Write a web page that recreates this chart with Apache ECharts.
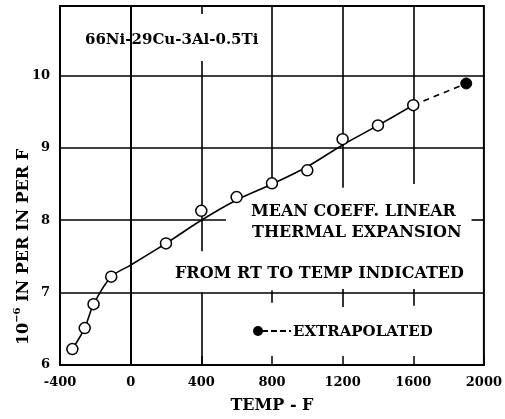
<!DOCTYPE html>
<html><head><meta charset="utf-8">
<script src="https://cdn.jsdelivr.net/npm/echarts@6/dist/echarts.min.js"></script>
<style>html,body{margin:0;padding:0;background:#fff}#c{width:505px;height:419px}</style>
</head><body><div id="c"></div>
<script>
// ---- data ----
const xTicks = [-400, 0, 400, 800, 1200, 1600, 2000];
const yTicks = [6, 7, 8, 9, 10];
const measuredTemp  = [-330, -260, -210, -110, 200, 400, 600, 800, 1000, 1200, 1400, 1600];
const measuredCoeff = [6.22, 6.51, 6.84, 7.22, 7.68, 8.13, 8.32, 8.51, 8.69, 9.12, 9.31, 9.59];
const curveTemp  = [-330, -260, -210, -110, 0, 200, 400, 600, 800, 1000, 1200, 1400, 1600];
const curveCoeff = [6.22, 6.51, 6.84, 7.22, 7.38, 7.68, 8.00, 8.28, 8.50, 8.74, 9.04, 9.31, 9.59];
const extrapTemp  = [1600, 1900];
const extrapCoeff = [9.59, 9.89];
const extrapPointTemp = [1900];
const extrapPointCoeff = [9.89];
const alloyLabel = '66Ni-29Cu-3Al-0.5Ti';
const noteLines = ['MEAN COEFF. LINEAR', 'THERMAL EXPANSION', 'FROM RT TO TEMP INDICATED'];
const legendLabel = 'EXTRAPOLATED';
const xName = 'TEMP - F';

const X_MIN = -400, X_MAX = 2000, Y_MIN = 6, Y_MAX = 10.96;
// grid line segments (value coordinates) as drawn (interrupted) in the original
const gridSegs = [
  [X_MIN, 10, X_MAX, 10], [X_MIN, 9, X_MAX, 9], [X_MIN, 7, X_MAX, 7],
  [X_MIN, 8, 540, 8], [1930, 8, X_MAX, 8],
  [0, Y_MAX, 0, 10.85], [0, 10.2, 0, Y_MIN],
  [400, Y_MAX, 400, 10.85], [400, 10.2, 400, 7.57], [400, 7, 400, Y_MIN],
  [800, Y_MAX, 800, 8.55], [800, 7.03, 800, 6.86],
  [1200, Y_MAX, 1200, 8.45], [1200, 7.05, 1200, 6.8],
  [1600, Y_MAX, 1600, 8.5], [1600, 7.05, 1600, 6.82]
];

const zip = (a, b) => a.map((v, i) => [v, b[i]]);
const FONT = '"DejaVu Serif", serif';

const chart = echarts.init(document.getElementById('c'), null, {renderer: 'canvas'});
chart.setOption({
  animation: false,
  backgroundColor: '#fff',
  grid: {left: 60, right: 16, top: 6, bottom: 53, show: true, borderColor: '#000', borderWidth: 2},
  xAxis: {
    type: 'value', min: X_MIN, max: X_MAX, interval: 400,
    name: xName, nameLocation: 'middle', nameGap: 33,
    nameTextStyle: {fontFamily: FONT, fontWeight: 'bold', fontSize: 16, color: '#000'},
    axisLine: {show: true, lineStyle: {color: '#000', width: 2}},
    axisTick: {show: true, inside: true, length: 9, lineStyle: {color: '#000', width: 1.5}},
    axisLabel: {fontFamily: FONT, fontWeight: 'bold', fontSize: 13, color: '#000', margin: 11,
      formatter: v => xTicks.includes(v) ? String(v) : ''},
    splitLine: {show: false}
  },
  yAxis: {
    type: 'value', min: Y_MIN, max: Y_MAX, interval: 1,
    axisLine: {show: true, lineStyle: {color: '#000', width: 2}},
    axisTick: {show: false},
    axisLabel: {fontFamily: FONT, fontWeight: 'bold', fontSize: 13, color: '#000', margin: 10,
      formatter: v => yTicks.includes(v) ? String(v) : ''},
    splitLine: {show: false}
  },
  graphic: [
    {type: 'text', x: 22, y: 247, rotation: Math.PI / 2,
      style: {text: '{a|10}{s|−6}{a| IN PER IN PER F}', align: 'center', verticalAlign: 'middle',
        rich: {a: {fontFamily: FONT, fontWeight: 'bold', fontSize: 16, lineHeight: 20, fill: '#000', verticalAlign: 'bottom'},
               s: {fontFamily: FONT, fontWeight: 'bold', fontSize: 10, lineHeight: 20, fill: '#000', verticalAlign: 'top'}}}},
    {type: 'text', x: 85, y: 40, style: {text: alloyLabel, font: 'bold 15px ' + FONT, fill: '#000', align: 'left', verticalAlign: 'middle'}},
    {type: 'text', x: 251, y: 212, style: {text: noteLines[0], font: 'bold 16px ' + FONT, fill: '#000', align: 'left', verticalAlign: 'middle'}},
    {type: 'text', x: 252, y: 233, style: {text: noteLines[1], font: 'bold 16px ' + FONT, fill: '#000', align: 'left', verticalAlign: 'middle'}},
    {type: 'text', x: 175, y: 274, style: {text: noteLines[2], font: 'bold 16px ' + FONT, fill: '#000', align: 'left', verticalAlign: 'middle'}},
    {type: 'circle', shape: {cx: 258, cy: 331, r: 5}, style: {fill: '#000'}},
    {type: 'line', shape: {x1: 262, y1: 331, x2: 291, y2: 331}, style: {stroke: '#000', lineWidth: 2, lineDash: [6, 3]}},
    {type: 'text', x: 293, y: 332, style: {text: legendLabel, font: 'bold 15px ' + FONT, fill: '#000', align: 'left', verticalAlign: 'middle'}}
  ],
  series: [
    {type: 'line', data: zip(curveTemp, curveCoeff), smooth: 0.3, symbol: 'none',
      lineStyle: {color: '#000', width: 1.6}, z: 3,
      markLine: {silent: true, symbol: ['none', 'none'], label: {show: false},
        lineStyle: {color: '#000', width: 1.6, type: 'solid'},
        data: gridSegs.map(s => [{coord: [s[0], s[1]]}, {coord: [s[2], s[3]]}])}},
    {type: 'line', data: zip(extrapTemp, extrapCoeff), symbol: 'none',
      lineStyle: {color: '#000', width: 1.6, type: [6, 5]}, z: 3},
    {type: 'scatter', data: zip(measuredTemp, measuredCoeff), symbol: 'circle', symbolSize: 11,
      itemStyle: {color: '#fff', borderColor: '#000', borderWidth: 1.5, opacity: 1}, z: 5},
    {type: 'scatter', data: zip(extrapPointTemp, extrapPointCoeff), symbol: 'circle', symbolSize: 11,
      itemStyle: {color: '#000', borderColor: '#000', borderWidth: 1, opacity: 1}, z: 5}
  ]
});
</script></body></html>
